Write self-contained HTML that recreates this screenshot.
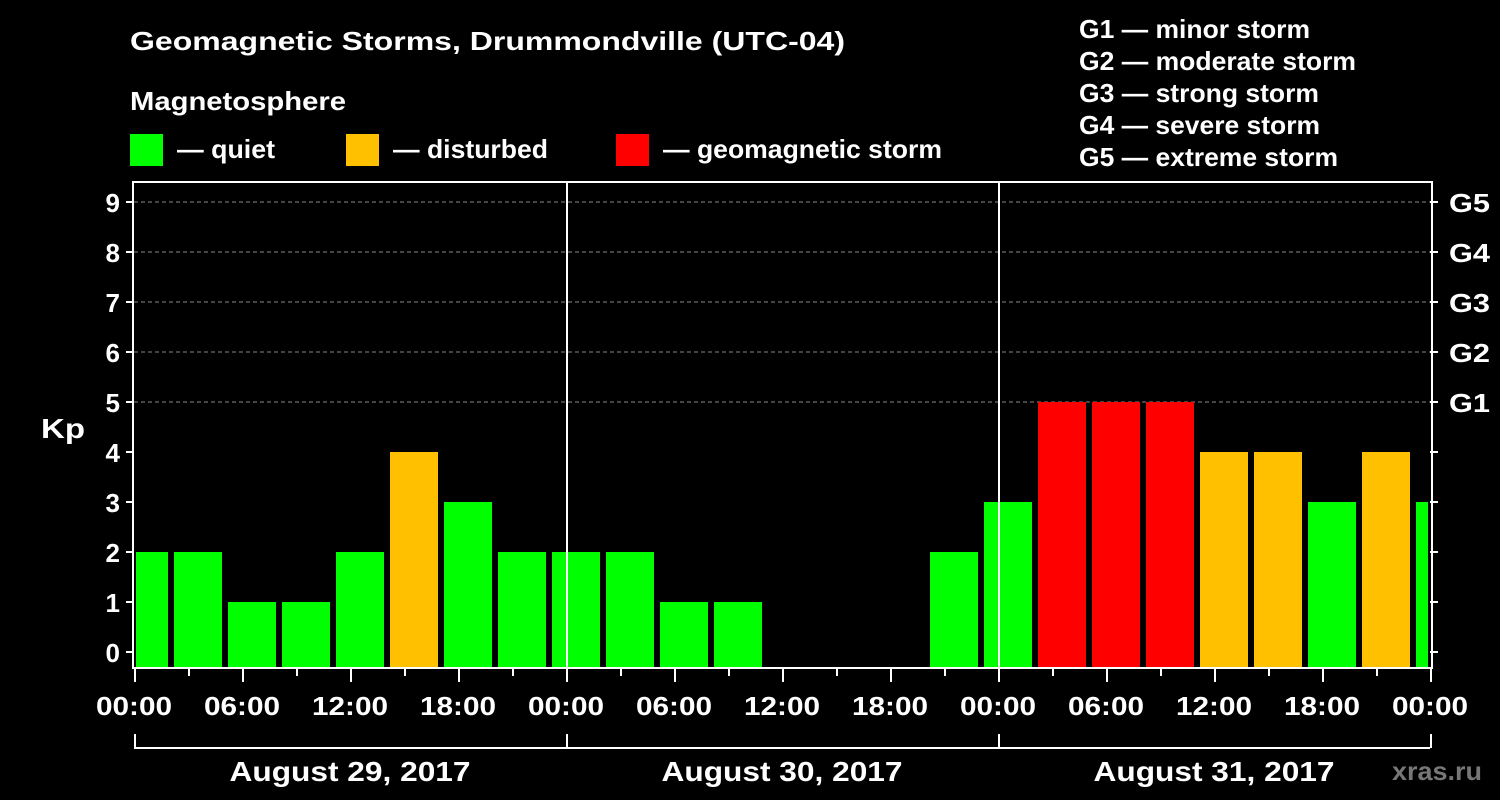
<!DOCTYPE html>
<html><head><meta charset="utf-8"><style>
html,body{margin:0;padding:0;background:#000;}
svg{display:block;}
text{font-family:"Liberation Sans",Arial,sans-serif;font-weight:bold;fill:#fff;}
</style></head><body>
<svg id="chart" width="1500" height="800" viewBox="0 0 1500 800" xmlns="http://www.w3.org/2000/svg">
<rect width="1500" height="800" fill="#000"/>
<text x="130" y="50" font-size="26" textLength="715" lengthAdjust="spacingAndGlyphs">Geomagnetic Storms, Drummondville (UTC-04)</text>
<text x="130" y="110" font-size="26" textLength="216" lengthAdjust="spacingAndGlyphs">Magnetosphere</text>
<g><rect x="130" y="134" width="33" height="32" fill="#00ff00"/><text x="177" y="158" font-size="26" textLength="98" lengthAdjust="spacingAndGlyphs">— quiet</text></g>
<g><rect x="346" y="134" width="33" height="32" fill="#ffc000"/><text x="393" y="158" font-size="26" textLength="155" lengthAdjust="spacingAndGlyphs">— disturbed</text></g>
<g><rect x="616" y="134" width="33" height="32" fill="#ff0000"/><text x="663" y="158" font-size="26" textLength="279" lengthAdjust="spacingAndGlyphs">— geomagnetic storm</text></g>
<g font-size="26">
<text x="1079" y="38" textLength="231" lengthAdjust="spacingAndGlyphs">G1 — minor storm</text>
<text x="1079" y="70" textLength="277" lengthAdjust="spacingAndGlyphs">G2 — moderate storm</text>
<text x="1079" y="102" textLength="240" lengthAdjust="spacingAndGlyphs">G3 — strong storm</text>
<text x="1079" y="134" textLength="241" lengthAdjust="spacingAndGlyphs">G4 — severe storm</text>
<text x="1079" y="166" textLength="259" lengthAdjust="spacingAndGlyphs">G5 — extreme storm</text>
</g>
<text x="41" y="438" font-size="28" textLength="44" lengthAdjust="spacingAndGlyphs">Kp</text>
<g id="grid"></g><g id="bars"></g><g id="axes"></g>
<text x="1392" y="780" font-size="26" style="fill:#777" textLength="90" lengthAdjust="spacingAndGlyphs">xras.ru</text>
</svg>
<script>
const kpValues=[2,2,1,1,2,4,3,2,2,2,1,1,0,0,0,2,3,5,5,5,4,4,3,4,3];
const dayLabels=["August 29, 2017","August 30, 2017","August 31, 2017"];
const hourLabels=["00:00","06:00","12:00","18:00"];
const gLabels=["G1","G2","G3","G4","G5"];
const NS="http://www.w3.org/2000/svg";
const L=134,R=1430,T=182,B=668;
const hourPx=(R-L)/72;
function xh(h){return L+h*hourPx;}
function yk(v){return 652-v*50;}
function mk(tag,attrs,parent){const e=document.createElementNS(NS,tag);for(const k in attrs)e.setAttribute(k,attrs[k]);parent.appendChild(e);return e;}
const grid=document.getElementById('grid'),bars=document.getElementById('bars'),axes=document.getElementById('axes');
for(let v=5;v<=9;v++){const l=mk('line',{x1:L,x2:R,y1:yk(v),y2:yk(v),stroke:'#888','stroke-width':1,'stroke-dasharray':'4,3'},grid);

}
kpValues.forEach((v,i)=>{if(v<=0)return;
let x0=xh(i*3-1)+4,x1=x0+48;x0=Math.max(x0,L+2);x1=Math.min(x1,R-2);
const c=v>=5?'#ff0000':v>=4?'#ffc000':'#00ff00';
const r=mk('rect',{x:x0,y:yk(v),width:x1-x0,height:B-yk(v),fill:c},bars);

});
mk('rect',{x:L-1,y:T,width:R-L+3,height:B-T,fill:'none',stroke:'#fff','stroke-width':2},axes);
for(let d=1;d<3;d++){mk('line',{x1:xh(d*24)+1,x2:xh(d*24)+1,y1:T,y2:B,stroke:'#fff','stroke-width':2},axes);}
for(let v=0;v<=9;v++){
mk('line',{x1:L-8,x2:L,y1:yk(v),y2:yk(v),stroke:'#fff','stroke-width':2},axes);
mk('line',{x1:R,x2:R+8,y1:yk(v),y2:yk(v),stroke:'#fff','stroke-width':2},axes);
const t=mk('text',{x:L-14,y:yk(v)+10,'font-size':26,'text-anchor':'end'},axes);t.textContent=v;


if(v>=5){const g=mk('text',{x:R+19,y:yk(v)+10,'font-size':26,textLength:41,lengthAdjust:'spacingAndGlyphs'},axes);g.textContent=gLabels[v-5];

}}
for(let h=0;h<=72;h+=3){const big=h%6===0;
mk('line',{x1:xh(h)+1,x2:xh(h)+1,y1:B,y2:B+(big?14:8),stroke:'#fff','stroke-width':2},axes);
if(big){const t=mk('text',{x:xh(h),y:715,'font-size':26,'text-anchor':'middle',textLength:76,lengthAdjust:'spacingAndGlyphs'},axes);t.textContent=hourLabels[(h/6)%4];

}}
mk('line',{x1:L,x2:R,y1:748,y2:748,stroke:'#fff','stroke-width':2},axes);
for(let d=0;d<=3;d++){mk('line',{x1:xh(d*24)+1,x2:xh(d*24)+1,y1:734,y2:748,stroke:'#fff','stroke-width':2},axes);}
dayLabels.forEach((s,d)=>{const t=mk('text',{x:xh(d*24+12),y:781,'font-size':28,'text-anchor':'middle',textLength:241,lengthAdjust:'spacingAndGlyphs'},axes);t.textContent=s;

});
</script>
</body></html>
